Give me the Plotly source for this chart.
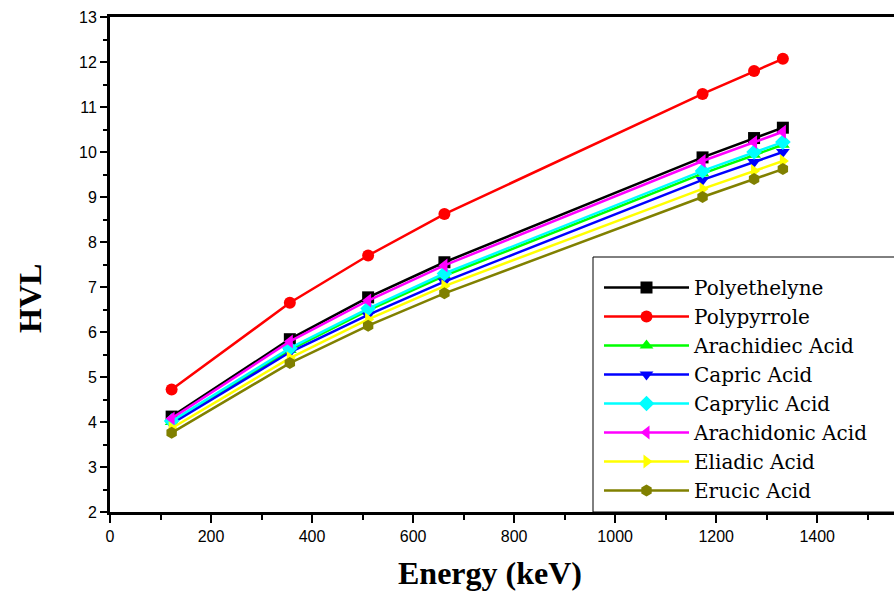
import plotly.graph_objects as go

# Photon energies (keV)
energy = [122, 356, 511, 662, 1173, 1275, 1332]

# Half value layer for each material
polyethelyne = [4.12, 5.84, 6.77, 7.55, 9.88, 10.31, 10.54]
polypyrrole = [4.72, 6.65, 7.70, 8.62, 11.29, 11.80, 12.07]
arachidiec_acid = [4.00, 5.60, 6.48, 7.25, 9.52, 9.94, 10.16]
capric_acid = [3.96, 5.55, 6.38, 7.12, 9.38, 9.78, 10.00]
caprylic_acid = [4.02, 5.64, 6.52, 7.30, 9.58, 10.00, 10.22]
arachidonic_acid = [4.08, 5.79, 6.70, 7.48, 9.80, 10.22, 10.45]
eliadic_acid = [3.86, 5.42, 6.28, 7.02, 9.18, 9.58, 9.80]
erucic_acid = [3.76, 5.31, 6.14, 6.86, 9.00, 9.40, 9.62]

x_ticks = [0, 200, 400, 600, 800, 1000, 1200, 1400]
y_ticks = list(range(2, 14))

series = [
    ("Polyethelyne", polyethelyne, "black", "square"),
    ("Polypyrrole", polypyrrole, "red", "circle"),
    ("Arachidiec Acid", arachidiec_acid, "#00ff00", "triangle-up"),
    ("Capric Acid", capric_acid, "blue", "triangle-down"),
    ("Caprylic Acid", caprylic_acid, "cyan", "diamond"),
    ("Arachidonic Acid", arachidonic_acid, "magenta", "triangle-left"),
    ("Eliadic Acid", eliadic_acid, "yellow", "triangle-right"),
    ("Erucic Acid", erucic_acid, "#808000", "hexagon"),
]

fig = go.Figure()
for name, vals, color, symbol in series:
    fig.add_trace(go.Scatter(
        x=energy, y=vals, name=name, mode="lines+markers",
        line=dict(color=color, width=2.5),
        marker=dict(symbol=symbol, size=12, color=color),
    ))

tick_font = dict(family="Liberation Sans, Arial, sans-serif", size=16, color="black")
serif = "Liberation Serif, Times New Roman, serif"

# plot area in pixels: left 110, right 894, top 17, bottom 512
PX_L, PX_W, PX_B, PX_H = 110, 784, 512, 495


def px_x(px):
    return (px - PX_L) / PX_W


def px_y(py):
    return (PX_B - py) / PX_H


fig.update_layout(
    width=894, height=592,
    margin=dict(l=110, r=0, t=17, b=80, autoexpand=False),
    paper_bgcolor="white", plot_bgcolor="white",
    showlegend=True,
    legend=dict(
        x=px_x(599), y=px_y(268), xanchor="left", yanchor="top",
        bgcolor="rgba(0,0,0,0)", borderwidth=0,
        font=dict(family="DejaVu Serif, serif", size=20, color="black"),
        itemwidth=85, tracegroupgap=0,
    ),
    xaxis=dict(
        range=[0, 1552], tickvals=x_ticks, ticktext=[str(v) for v in x_ticks],
        showgrid=False, zeroline=False,
        showline=True, linecolor="black", linewidth=3, mirror=True,
        ticks="outside", ticklen=8, tickwidth=1.5, tickcolor="black",
        minor=dict(dtick=100, tick0=0, ticks="outside", ticklen=5, tickwidth=1.5, tickcolor="black"),
        tickfont=tick_font,
    ),
    yaxis=dict(
        range=[2, 13], tickvals=y_ticks, ticktext=[str(v) for v in y_ticks],
        showgrid=False, zeroline=False,
        showline=True, linecolor="black", linewidth=3,
        ticks="outside", ticklen=7, tickwidth=1.5, tickcolor="black",
        minor=dict(dtick=0.5, tick0=2, ticks="outside", ticklen=4, tickwidth=1.5, tickcolor="black"),
        tickfont=tick_font,
    ),
    shapes=[dict(
        type="rect", xref="paper", yref="paper", layer="above",
        x0=px_x(593), x1=px_x(905), y0=0, y1=px_y(257),
        fillcolor="white", line=dict(color="black", width=1),
    )],
    annotations=[
        dict(
            text="<b>Energy (keV)</b>", xref="paper", yref="paper",
            x=px_x(490), y=px_y(573), xanchor="center", yanchor="middle",
            showarrow=False,
            font=dict(family=serif, size=32, color="black"),
        ),
        dict(
            text="<b>HVL</b>", xref="paper", yref="paper", textangle=-90,
            x=px_x(30), y=px_y(299), xanchor="center", yanchor="middle",
            showarrow=False,
            font=dict(family=serif, size=32, color="black"),
        ),
    ],
)

fig.write_html("out.html")
